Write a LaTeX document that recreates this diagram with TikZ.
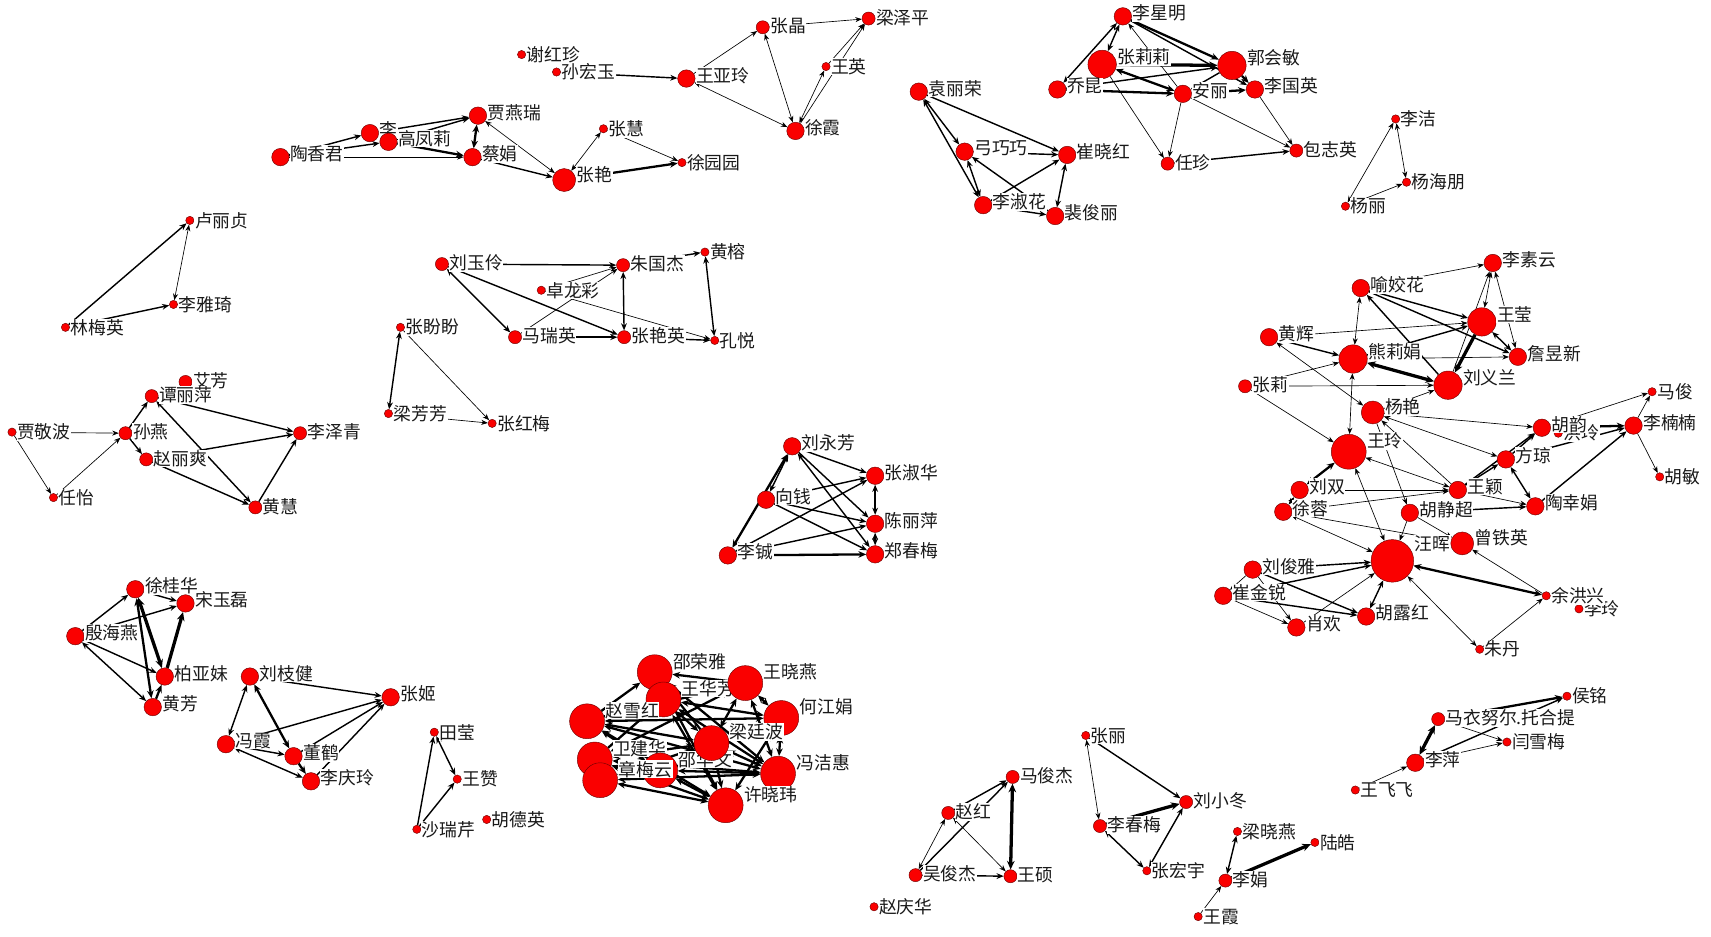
\documentclass[tikz,border=0pt]{standalone}
\usepackage{fontspec}
\newfontfamily\cjk{Noto Sans CJK SC}
\usetikzlibrary{arrows.meta}
\pgfdeclarelayer{bg}
\pgfsetlayers{bg,main}
\definecolor{ndred}{RGB}{250,0,0}
\definecolor{ndline}{RGB}{110,0,0}
\definecolor{txt}{RGB}{25,25,25}
\tikzset{
  nd/.style={circle, fill=ndred, draw=ndline, line width=0.4pt, inner sep=0pt, label distance=2.5pt},
  tn/.style={nd, minimum size=7.6pt},
  sm/.style={nd, minimum size=12pt},
  md/.style={nd, minimum size=16pt},
  lg/.style={nd, minimum size=21pt},
  xg/.style={nd, minimum size=26pt},
  hg/.style={nd, minimum size=32pt},
  hh/.style={nd, minimum size=39pt},
  lbl/.style={fill=white, inner sep=0.5pt, text=txt, font=\cjk\fontsize{16.3}{17}\selectfont},
  w1/.style={line width=0.6pt},
  w2/.style={line width=1.3pt},
  w3/.style={line width=2.1pt},
  w4/.style={line width=3pt},
  fw/.style={-{Stealth[length=5.5pt 0.8, width=4pt 1.0]}},
  bd/.style={{Stealth[length=5.5pt 0.8, width=4pt 1.0]}-{Stealth[length=5.5pt 0.8, width=4pt 1.0]}}
}
\def\ystn{0}\def\yssm{1}\def\ysmd{3}\def\yslg{5}\def\ysxg{7}\def\yshg{10}\def\yshh{16}
\newcommand\mynode[4]{\node[#1,label={[lbl,yshift=\csname ys#1\endcsname pt]0:#4}] (#2) at (#3) {};}
\begin{document}
\begin{tikzpicture}[x=1pt,y=-1pt]
\useasboundingbox (0,0) rectangle (1568,858);
% ---- top-left cluster
\mynode{tn}{xhz}{478,50}{谢红珍}
\mynode{tn}{shy}{510,66}{孙宏玉}
\mynode{md}{wyl}{629,72}{王亚玲}
\mynode{sm}{zj}{699,25}{张晶}
\mynode{sm}{lzp}{796,17}{梁泽平}
\mynode{tn}{wy}{757,61}{王英}
\mynode{md}{xx}{729,120}{徐霞}
\mynode{md}{jyr}{438,106}{贾燕瑞}
\mynode{md}{txj}{257,144}{陶香君}
\mynode{md}{li}{339,122}{李}
\mynode{md}{gfl}{356,130}{高凤莉}
\mynode{md}{cj}{433,144}{蔡娟}
\mynode{lg}{zy}{517,165}{张艳}
\mynode{tn}{zh}{553,118}{张慧}
\mynode{tn}{xyy}{625,149}{徐园园}
% ---- top middle
\mynode{md}{lxm}{1029,15}{李星明}
\mynode{xg}{zll}{1010,59}{张莉莉}
\mynode{xg}{ghm}{1129,60}{郭会敏}
\mynode{md}{qk}{969,82}{乔昆}
\mynode{md}{al}{1084,86}{安丽}
\mynode{md}{lgy}{1150,82}{李国英}
\mynode{sm}{rz}{1070,150}{任珍}
\mynode{sm}{bzy}{1188,138}{包志英}
\mynode{md}{ylr}{842,84}{袁丽荣}
\mynode{md}{gqq}{884,139}{弓巧巧}
\mynode{md}{cxh}{978,142}{崔晓红}
\mynode{md}{lsh}{901,188}{李淑花}
\mynode{md}{pjl}{967,198}{裴俊丽}
\mynode{tn}{lij}{1279,109}{李洁}
\mynode{tn}{yhp}{1289,167}{杨海朋}
\mynode{tn}{yl}{1233,189}{杨丽}
% ---- left
\mynode{tn}{llz}{174,202}{卢丽贞}
\mynode{tn}{lyq}{159,279}{李雅琦}
\mynode{tn}{lmy}{60,300}{林梅英}
\mynode{sm}{af}{170,350}{艾芳}
\mynode{sm}{tlp}{139,363}{谭丽萍}
\mynode{tn}{jjb}{11,396}{贾敬波}
\mynode{sm}{sy}{115,397}{孙燕}
\mynode{sm}{zls}{134,421}{赵丽爽}
\mynode{sm}{lzq}{275,397}{李泽青}
\mynode{tn}{ryi}{49,456}{任怡}
\mynode{sm}{hh}{234,465}{黄慧}
\mynode{tn}{zpp}{367,300}{张盼盼}
\mynode{tn}{lff}{356,379}{梁芳芳}
\mynode{tn}{zhm}{451,388}{张红梅}
% ---- middle
\mynode{sm}{lyl}{405,242}{刘玉伶}
\mynode{sm}{zgj}{571,243}{朱国杰}
\mynode{tn}{hr}{646,231}{黄榕}
\mynode{tn}{zlc}{496,266}{卓龙彩}
\mynode{sm}{mry}{472,309}{马瑞英}
\mynode{sm}{zyy}{572,309}{张艳英}
\mynode{tn}{ky}{655,312}{孔悦}
\mynode{md}{lyf}{726,409}{刘永芳}
\mynode{md}{zsh}{802,436}{张淑华}
\mynode{md}{xq}{702,458}{向钱}
\mynode{md}{clp}{802,480}{陈丽萍}
\mynode{md}{lc}{667,509}{李铖}
\mynode{md}{zcm}{802,508}{郑春梅}
% ---- bottom left
\mynode{md}{xgh}{124,540}{徐桂华}
\mynode{md}{syl}{170,553}{宋玉磊}
\mynode{md}{yhy}{69,583}{殷海燕}
\mynode{md}{byf}{151,620}{柏亚妹}
\mynode{md}{hf}{140,648}{黄芳}
\mynode{md}{lzj}{229,620}{刘枝健}
\mynode{md}{zji}{358,639}{张姬}
\mynode{md}{fx}{207,682}{冯霞}
\mynode{md}{dh}{269,693}{董鹤}
\mynode{md}{lql}{285,716}{李庆玲}
\mynode{tn}{ty}{398,671}{田莹}
\mynode{tn}{wz}{419,714}{王赞}
\mynode{tn}{srq}{382,760}{沙瑞芹}
\mynode{tn}{hdy}{446,751}{胡德英}
% ---- dense cluster
\mynode{hg}{srya}{600,616}{邵荣雅}
\mynode{hg}{whf}{608,641}{王华芳}
\mynode{hg}{wxy}{683,626}{王晓燕}
\mynode{hg}{hjj}{716,658}{何江娟}
\mynode{hg}{zxh}{538,661}{赵雪红}
\mynode{hg}{wjh}{545,696}{卫建华}
\mynode{hg}{shw}{605,706}{邵华文}
\mynode{hg}{ltb}{652,681}{梁廷波}
\mynode{hg}{zmy}{550,715}{章梅云}
\mynode{hg}{fjh}{713,709}{冯洁惠}
\mynode{hg}{xxw}{665,738}{许晓玮}
% ---- bottom middle
\mynode{tn}{zli}{995,674}{张丽}
\mynode{sm}{mjj}{928,712}{马俊杰}
\mynode{sm}{lxd}{1087,735}{刘小冬}
\mynode{sm}{zho}{869,745}{赵红}
\mynode{sm}{lcm}{1008,757}{李春梅}
\mynode{tn}{lxy}{1134,762}{梁晓燕}
\mynode{tn}{lh}{1205,772}{陆皓}
\mynode{sm}{wjj}{839,802}{吴俊杰}
\mynode{sm}{ws}{926,803}{王硕}
\mynode{tn}{zhy}{1051,798}{张宏宇}
\mynode{sm}{lju}{1123,807}{李娟}
\mynode{tn}{wxi}{1098,840}{王霞}
\mynode{tn}{zqh}{801,831}{赵庆华}
% ---- bottom right
\mynode{tn}{hm}{1436,638}{侯铭}
\mynode{sm}{mye}{1318,659}{马衣努尔.托合提}
\mynode{tn}{yxm}{1381,680}{闫雪梅}
\mynode{md}{lp}{1297,699}{李萍}
\mynode{tn}{wff}{1242,724}{王飞飞}
% ---- right cluster
\mynode{md}{lsy}{1368,241}{李素云}
\mynode{md}{yjh}{1247,264}{喻姣花}
\mynode{xg}{wyi}{1358,295}{王莹}
\mynode{md}{hhu}{1163,309}{黄辉}
\mynode{xg}{xlj}{1240,329}{熊莉娟}
\mynode{md}{zyx}{1391,327}{詹昱新}
\mynode{xg}{lyla}{1327,353}{刘义兰}
\mynode{sm}{zl}{1141,354}{张莉}
\mynode{lg}{yy}{1258,378}{杨艳}
\mynode{tn}{mj}{1514,359}{马俊}
\mynode{md}{lnn}{1497,390}{李楠楠}
\mynode{tn}{hid1}{1428,397}{洪玲}
\mynode{md}{hy}{1413,392}{胡韵}
\mynode{hg}{wl}{1236,414}{王玲}
\mynode{md}{fq}{1380,421}{方琼}
\mynode{md}{ls}{1191,449}{刘双}
\mynode{md}{wyg}{1336,449}{王颖}
\mynode{md}{xr}{1176,469}{徐蓉}
\mynode{md}{hjc}{1292,470}{胡静超}
\mynode{md}{txy}{1407,464}{陶幸娟}
\mynode{tn}{hmi}{1521,437}{胡敏}
\mynode{hh}{wh}{1276,514}{汪晖}
\mynode{lg}{zty}{1340,498}{曾铁英}
\mynode{md}{ljy}{1148,522}{刘俊雅}
\mynode{md}{cjr}{1121,546}{崔金锐}
\mynode{tn}{hid2}{1447,558}{李玲}
\mynode{tn}{yhx}{1417,546}{余洪兴}
\mynode{md}{hlh}{1252,565}{胡露红}
\mynode{md}{xh}{1188,575}{肖欢}
\mynode{tn}{zd}{1356,595}{朱丹}

\begin{pgfonlayer}{bg}
\fill[white] (0,0) rectangle (1568,858);
% top-left
\draw[w2,fw] (txj) -- (li);
\draw[w2,fw] (txj) -- (gfl);
\draw[w1,fw] (txj) -- (cj);
\draw[w2,fw] (li) -- (jyr);
\draw[w2,fw] (gfl) -- (jyr);
\draw[w3,fw] (gfl) -- (cj);
\draw[w3,bd] (jyr) -- (cj);
\draw[w1,bd] (jyr) -- (zy);
\draw[w2,fw] (cj) -- (zy);
\draw[w1,bd] (zy) -- (zh);
\draw[w3,fw] (zy) -- (xyy);
\draw[w1,fw] (zh) -- (xyy);
\draw[w2,fw] (shy) -- (wyl);
\draw[w1,fw] (wyl) -- (zj);
\draw[w1,fw] (zj) -- (lzp);
\draw[w1,bd] (zj) -- (xx);
\draw[w1,bd] (xx) -- (wyl);
\draw[w1,bd] (xx) -- (wy);
\draw[w1,fw] (wy) -- (lzp);
\draw[w1,fw] (xx) -- (lzp);
% top middle
\draw[w2,bd] (qk) -- (lxm);
\draw[w2,bd] (lxm) -- (zll);
\draw[w1,fw] (al) -- (lxm);
\draw[w3,fw] (lxm) -- (ghm);
\draw[w2,fw] (lxm) -- (lgy);
\draw[w4,fw] (zll) -- (ghm);
\draw[w3,bd] (zll) -- (al);
\draw[w3,fw] (qk) -- (al);
\draw[w2,fw] (qk) -- (ghm);
\draw[w3,fw] (al) -- (lgy);
\draw[w3,fw] (ghm) -- (lgy);
\draw[w2,fw] (ghm) -- (al);
\draw[w1,fw] (zll) -- (rz);
\draw[w1,fw] (al) -- (rz);
\draw[w1,fw] (al) -- (bzy);
\draw[w1,fw] (lgy) -- (bzy);
\draw[w2,fw] (rz) -- (bzy);
\draw[w2,bd] (ylr) -- (gqq);
\draw[w2,bd] (ylr) -- (lsh);
\draw[w2,fw] (ylr) -- (cxh);
\draw[w2,fw] (gqq) -- (cxh);
\draw[w2,bd] (gqq) -- (lsh);
\draw[w2,fw] (lsh) -- (cxh);
\draw[w2,fw] (lsh) -- (pjl);
\draw[w2,bd] (cxh) -- (pjl);
\draw[w2,fw] (pjl) -- (gqq);
\draw[w1,bd] (yl) -- (lij);
\draw[w1,bd] (lij) -- (yhp);
\draw[w1,fw] (yl) -- (yhp);
% left
\draw[w2,fw] (lmy) -- (llz);
\draw[w2,fw] (lmy) -- (lyq);
\draw[w1,bd] (llz) -- (lyq);
\draw[w1,fw] (jjb) -- (sy);
\draw[w1,fw] (jjb) -- (ryi);
\draw[w1,fw] (ryi) -- (sy);
\draw[w2,fw] (sy) -- (tlp);
\draw[w2,fw] (sy) -- (zls);
\draw[w2,fw] (tlp) -- (lzq);
\draw[w2,fw] (zls) -- (lzq);
\draw[w2,bd] (tlp) -- (hh);
\draw[w2,fw] (zls) -- (hh);
\draw[w2,fw] (hh) -- (lzq);
\draw[w2,bd] (zpp) -- (lff);
\draw[w1,fw] (zpp) -- (zhm);
\draw[w1,fw] (lff) -- (zhm);
% middle
\draw[w2,fw] (lyl) -- (zgj);
\draw[w2,bd] (lyl) -- (mry);
\draw[w2,fw] (lyl) -- (zyy);
\draw[w1,fw] (zlc) -- (zgj);
\draw[w1,fw] (mry) -- (zgj);
\draw[w1,fw] (zlc) -- (ky);
\draw[w2,fw] (mry) -- (zyy);
\draw[w2,bd] (zgj) -- (zyy);
\draw[w2,fw] (zgj) -- (hr);
\draw[w2,bd] (hr) -- (ky);
\draw[w2,fw] (zyy) -- (ky);
\draw[w3,bd] (lc) -- (lyf);
\draw[w2,bd] (xq) -- (lyf);
\draw[w2,fw] (lyf) -- (zsh);
\draw[w2,fw] (lyf) -- (clp);
\draw[w2,bd] (lyf) -- (zcm);
\draw[w2,fw] (xq) -- (zsh);
\draw[w2,fw] (xq) -- (clp);
\draw[w2,fw] (xq) -- (zcm);
\draw[w2,fw] (lc) -- (zsh);
\draw[w2,fw] (lc) -- (clp);
\draw[w3,fw] (lc) -- (zcm);
\draw[w2,bd] (zsh) -- (clp);
\draw[w2,bd] (clp) -- (zcm);
% bottom left
\draw[w2,fw] (yhy) -- (xgh);
\draw[w2,fw] (yhy) -- (syl);
\draw[w2,fw] (yhy) -- (byf);
\draw[w2,bd] (yhy) -- (hf);
\draw[w2,fw] (xgh) -- (syl);
\draw[w4,bd] (xgh) -- (byf);
\draw[w3,bd] (xgh) -- (hf);
\draw[w4,fw] (byf) -- (syl);
\draw[w3,fw] (hf) -- (byf);
\draw[w2,bd] (lzj) -- (fx);
\draw[w3,bd] (lzj) -- (dh);
\draw[w2,fw] (lzj) -- (zji);
\draw[w2,fw] (fx) -- (zji);
\draw[w2,fw] (dh) -- (zji);
\draw[w2,fw] (lql) -- (zji);
\draw[w2,fw] (fx) -- (dh);
\draw[w2,bd] (fx) -- (lql);
\draw[w3,fw] (dh) -- (lql);
\draw[w2,bd] (ty) -- (wz);
\draw[w2,fw] (srq) -- (ty);
\draw[w2,fw] (srq) -- (wz);
% dense cluster
\foreach \a/\b in {zxh/srya, zxh/whf, wxy/srya, ltb/srya, wjh/whf}
  \draw[w3,fw] (\a) -- (\b);
\foreach \a/\b in {zxh/wxy, zxh/hjj, zxh/ltb, zxh/fjh, zxh/xxw, wjh/wxy, wjh/ltb, wjh/fjh, wjh/xxw,
  zmy/xxw, zmy/fjh, zmy/ltb, whf/hjj, whf/fjh, whf/xxw, whf/ltb, srya/xxw, srya/fjh,
  wxy/fjh, wxy/ltb, wxy/hjj, hjj/fjh, hjj/xxw, ltb/xxw, ltb/fjh, shw/xxw, shw/fjh, shw/zxh}
  \draw[w3,bd] (\a) -- (\b);
% bottom middle
\draw[w2,fw] (zho) -- (mjj);
\draw[w2,fw] (wjj) -- (mjj);
\draw[w4,bd] (ws) -- (mjj);
\draw[w1,bd] (wjj) -- (zho);
\draw[w1,bd] (zho) -- (ws);
\draw[w2,fw] (wjj) -- (ws);
\draw[w1,bd] (zli) -- (lcm);
\draw[w2,fw] (zli) -- (lxd);
\draw[w4,fw] (lcm) -- (lxd);
\draw[w2,bd] (lcm) -- (zhy);
\draw[w2,bd] (zhy) -- (lxd);
\draw[w2,bd] (lxy) -- (lju);
\draw[w1,fw] (wxi) -- (lju);
\draw[w4,fw] (lju) -- (lh);
% bottom right
\draw[w4,bd] (lp) -- (mye);
\draw[w3,fw] (mye) -- (hm);
\draw[w1,fw] (mye) -- (yxm);
\draw[w2,fw] (lp) -- (hm);
\draw[w1,fw] (lp) -- (yxm);
\draw[w1,fw] (wff) -- (lp);
% right cluster
\draw[w1,fw] (yjh) -- (lsy);
\draw[w1,bd] (yjh) -- (xlj);
\draw[w2,fw] (yjh) -- (wyi);
\draw[w2,fw] (yjh) -- (zyx);
\draw[w2,fw] (lyla) -- (yjh);
\draw[w1,bd] (lsy) -- (wyi);
\draw[w1,fw] (lyla) -- (lsy);
\draw[w1,bd] (lsy) -- (zyx);
\draw[w2,bd] (wyi) -- (zyx);
\draw[w4,fw] (wyi) -- (lyla);
\draw[w1,fw] (hhu) -- (wyi);
\draw[w2,fw] (hhu) -- (xlj);
\draw[w2,fw] (xlj) -- (wyi);
\draw[w1,fw] (xlj) -- (zyx);
\draw[w4,bd] (xlj) -- (lyla);
\draw[w1,fw] (zl) -- (xlj);
\draw[w1,fw] (zl) -- (lyla);
\draw[w1,fw] (zl) -- (wl);
\draw[w1,bd] (hhu) -- (yy);
\draw[w1,bd] (xlj) -- (wl);
\draw[w1,fw] (yy) -- (lyla);
\draw[w1,fw] (yy) -- (hy);
\draw[w1,bd] (yy) -- (fq);
\draw[w1,fw] (wyg) -- (yy);
\draw[w1,fw] (yy) -- (hjc);
\draw[w1,fw] (hy) -- (mj);
\draw[w3,fw] (hy) -- (lnn);
\draw[w1,fw] (lnn) -- (mj);
\draw[w1,fw] (lnn) -- (hmi);
\draw[w2,fw] (fq) -- (lnn);
\draw[w2,fw] (fq) -- (hy);
\draw[w2,fw] (wyg) -- (hy);
\draw[w2,fw] (wyg) -- (fq);
\draw[w2,bd] (fq) -- (txy);
\draw[w2,fw] (txy) -- (lnn);
\draw[w3,bd] (wl) -- (ls);
\draw[w1,bd] (wl) -- (wyg);
\draw[w1,bd] (wl) -- (wh);
\draw[w1,bd] (ls) -- (xr);
\draw[w1,fw] (ls) -- (wyg);
\draw[w1,fw] (xr) -- (wyg);
\draw[w1,fw] (xr) -- (zty);
\draw[w1,bd] (xr) -- (wh);
\draw[w2,fw] (hjc) -- (txy);
\draw[w1,fw] (hjc) -- (zty);
\draw[w1,fw] (hjc) -- (wh);
\draw[w1,fw] (wyg) -- (txy);
\draw[w2,fw] (ljy) -- (wh);
\draw[w1,fw] (ljy) -- (cjr);
\draw[w2,fw] (ljy) -- (hlh);
\draw[w1,fw] (ljy) -- (xh);
\draw[w1,fw] (cjr) -- (xh);
\draw[w2,fw] (cjr) -- (hlh);
\draw[w2,fw] (cjr) -- (wh);
\draw[w1,fw] (xh) -- (wh);
\draw[w2,bd] (hlh) -- (wh);
\draw[w3,bd] (wh) -- (yhx);
\draw[w1,bd] (wh) -- (zd);
\draw[w1,fw] (zd) -- (yhx);
\draw[w1,fw] (yhx) -- (zty);
\end{pgfonlayer}
\end{tikzpicture}
\end{document}
